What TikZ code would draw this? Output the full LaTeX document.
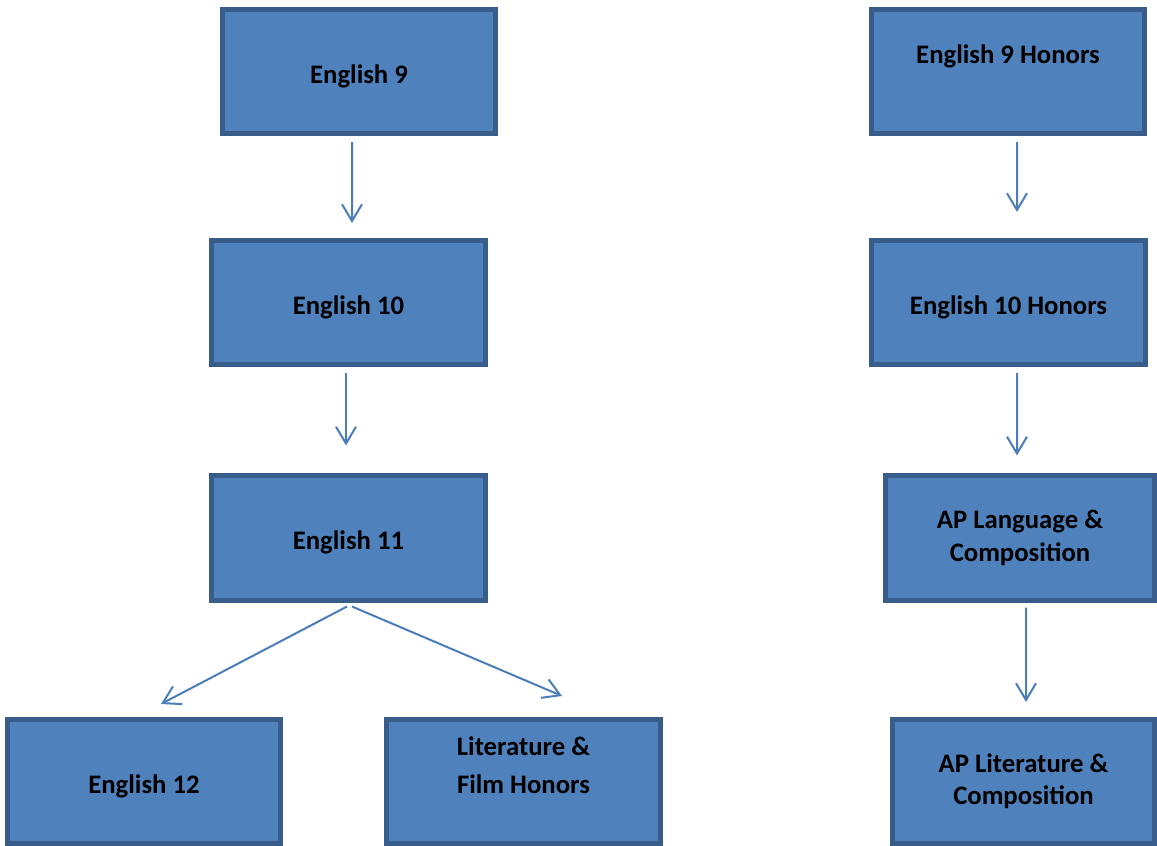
\documentclass[tikz,border=0pt]{standalone}
\usepackage{fontspec}
\setmainfont{Carlito}
\usetikzlibrary{arrows.meta,calc}
\definecolor{boxfill}{HTML}{4F81BD}
\definecolor{boxline}{HTML}{385D8A}
\definecolor{flowline}{HTML}{4A7EBB}

\begin{document}
\begin{tikzpicture}[x=0.025cm,y=-0.025cm,
  course/.style={draw=boxline,fill=boxfill,line width=0.125cm,outer sep=0pt,
    minimum width=6.825cm,minimum height=3.1cm,align=center,
    font=\fontsize{19}{23}\selectfont\bfseries,
    execute at begin node={\rule{0pt}{0.7cm}}},
  flow/.style={draw=flowline,line width=0.05cm,
    -{Straight Barb[length=0.42cm,width=0.5cm]}}]
  \useasboundingbox (0,0) rectangle (1157,846);
  % regular track
  \node[course] (e9)  at (359,71.5)   {English 9};
  \node[course] (e10) at (348.5,302.5) {English 10};
  \node[course] (e11) at (348.5,538)   {English 11};
  \node[course] (e12) at (144,781.5)   {English 12};
  \node[course] (lit) at (523.5,781.5) {Literature \&\\[4pt] Film Honors\\ \mbox{}};
  % honors track
  \node[course] (h9)  at (1008,71.5)   {English 9 Honors\\[1pt] \mbox{}};
  \node[course] (h10) at (1008.5,302.5) {English 10 Honors};
  \node[course,minimum width=6.725cm] (apl) at (1020,538)   {AP Language \&\\ Composition};
  \node[course,minimum width=6.55cm]  (apt) at (1023.5,781.5) {AP Literature \&\\ Composition};

  \draw[flow] ($(e9.south)+(-7,8.5)$)    -- ($(e10.north)+(3.5,-17.5)$);
  \draw[flow] ($(e10.south)+(-2.5,8.5)$) -- ($(e11.north)+(-2.5,-30.5)$);
  \draw[flow] ($(e11.south)+(-1.5,6.5)$) -- ($(e12.north)+(17,-15.5)$);
  \draw[flow] ($(e11.south)+(3.5,6.5)$)  -- ($(lit.north)+(38.5,-23.5)$);
  \draw[flow] ($(h9.south)+(9,8.5)$)     -- ($(h10.north)+(8.5,-28.5)$);
  \draw[flow] ($(h10.south)+(8.5,8.5)$)  -- ($(apl.north)+(-3,-20.5)$);
  \draw[flow] ($(apl.south)+(6,7.5)$)    -- ($(apt.north)+(2.5,-17.5)$);
\end{tikzpicture}
\end{document}
